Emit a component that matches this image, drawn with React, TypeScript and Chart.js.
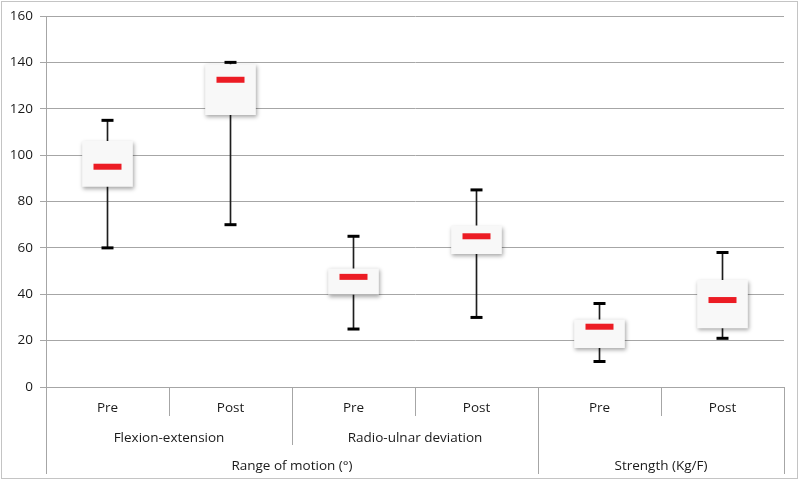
import React, { useEffect, useRef } from "react";
import { Chart, registerables } from "chart.js";

Chart.register(...registerables);

const subLabels = ["Pre", "Post", "Pre", "Post", "Pre", "Post"];
const groupLabels = ["Flexion-extension", "Radio-ulnar deviation", ""];
const groupSpans = [2, 2, 2];
const topLabels = ["Range of motion (°)", "Strength (Kg/F)"];
const topSpans = [4, 2];

const minValues = [60, 70, 25, 30, 11, 21];
const q1Values = [86.5, 117.5, 40, 57.5, 17, 25.5];
const medianValues = [95, 132.5, 47.5, 65, 26, 37.5];
const q3Values = [106, 139, 51, 69.5, 29, 46];
const maxValues = [115, 140, 65, 85, 36, 58];

const FONT = "'Open Sans', 'DejaVu Sans', sans-serif";

const shadowPlugin = {
  id: "boxShadow",
  beforeDatasetDraw(chart: any, args: any) {
    const ds = chart.data.datasets[args.index];
    if (ds.label === "box") {
      const ctx = chart.ctx;
      ctx.save();
      ctx.shadowColor = "rgba(0,0,0,0.35)";
      ctx.shadowBlur = 4;
      ctx.shadowOffsetX = 1;
      ctx.shadowOffsetY = 2;
    }
  },
  afterDatasetDraw(chart: any, args: any) {
    const ds = chart.data.datasets[args.index];
    if (ds.label === "box") {
      chart.ctx.restore();
    }
  },
};

const axisPlugin = {
  id: "multiAxis",
  afterDraw(chart: any) {
    const ctx = chart.ctx;
    const xs = chart.scales.x;
    const area = chart.chartArea;
    const n = subLabels.length;
    const centers: number[] = [];
    for (let i = 0; i < n; i++) centers.push(xs.getPixelForValue(i));
    const edges: number[] = [area.left];
    for (let i = 0; i < n - 1; i++) edges.push((centers[i] + centers[i + 1]) / 2);
    edges.push(area.right);

    const base = area.bottom;
    const row1 = base + 29;
    const row2 = base + 58;
    const row3 = base + 86;

    ctx.save();
    ctx.strokeStyle = "#a6a6a6";
    ctx.lineWidth = 1;
    const vline = (x: number, y2: number) => {
      const px = Math.round(x) + 0.5;
      ctx.beginPath();
      ctx.moveTo(px, base);
      ctx.lineTo(px, y2);
      ctx.stroke();
    };
    const groupEdges = new Set<number>();
    let acc = 0;
    groupEdges.add(0);
    groupSpans.forEach((s) => { acc += s; groupEdges.add(acc); });
    const topEdges = new Set<number>();
    acc = 0;
    topEdges.add(0);
    topSpans.forEach((s) => { acc += s; topEdges.add(acc); });
    for (let i = 0; i <= n; i++) {
      if (topEdges.has(i)) vline(edges[i], row3 + 1);
      else if (groupEdges.has(i)) vline(edges[i], row2);
      else vline(edges[i], row1);
    }

    ctx.fillStyle = "#1a1a1a";
    ctx.font = `13.5px ${FONT}`;
    ctx.textAlign = "center";
    ctx.textBaseline = "middle";
    for (let i = 0; i < n; i++) {
      ctx.fillText(subLabels[i], centers[i], base + 21);
    }
    acc = 0;
    groupLabels.forEach((lab, g) => {
      const x = (edges[acc] + edges[acc + groupSpans[g]]) / 2;
      if (lab) ctx.fillText(lab, x, base + 51);
      acc += groupSpans[g];
    });
    acc = 0;
    topLabels.forEach((lab, g) => {
      const x = (edges[acc] + edges[acc + topSpans[g]]) / 2;
      ctx.fillText(lab, x, base + 79);
      acc += topSpans[g];
    });

    ctx.strokeStyle = "#c4c4c4";
    ctx.strokeRect(1.5, 1.5, 796, 477);
    ctx.restore();
  },
};

export default function App() {
  const ref = useRef<HTMLCanvasElement | null>(null);

  useEffect(() => {
    document.body.style.margin = "0";
    if (!ref.current) return;
    const chart = new Chart(ref.current, {
      type: "bar",
      data: {
        labels: subLabels,
        datasets: [
          {
            type: "line",
            label: "median",
            data: medianValues,
            showLine: false,
            pointStyle: "line",
            pointRadius: 14,
            pointBorderWidth: 6,
            pointBorderColor: "#ec1c24",
            pointBackgroundColor: "#ec1c24",
            borderColor: "#ec1c24",
            order: 0,
          } as any,
          {
            type: "line",
            label: "maxCap",
            data: maxValues,
            showLine: false,
            pointStyle: "line",
            pointRadius: 6,
            pointBorderWidth: 3,
            pointBorderColor: "#000",
            borderColor: "#000",
            order: 1,
          } as any,
          {
            type: "line",
            label: "minCap",
            data: minValues,
            showLine: false,
            pointStyle: "line",
            pointRadius: 6,
            pointBorderWidth: 3,
            pointBorderColor: "#000",
            borderColor: "#000",
            order: 1,
          } as any,
          {
            type: "bar",
            label: "box",
            data: q1Values.map((q, i) => [q, q3Values[i]]),
            backgroundColor: "#f8f8f8",
            borderWidth: 0,
            barThickness: 50,
            grouped: false,
            order: 2,
          } as any,
          {
            type: "bar",
            label: "whisker",
            data: minValues.map((m, i) => [m, maxValues[i]]),
            backgroundColor: "#1e1e1e",
            borderWidth: 0,
            barThickness: 1,
            grouped: false,
            order: 3,
          } as any,
        ],
      },
      options: {
        animation: false,
        responsive: false,
        maintainAspectRatio: false,
        layout: { autoPadding: false, padding: { left: 0, right: 16, top: 16, bottom: 0 } },
        plugins: {
          legend: { display: false },
          tooltip: { enabled: false },
          title: { display: false },
        },
        scales: {
          x: {
            type: "category",
            offset: true,
            grid: { display: false },
            border: { display: false },
            ticks: { display: false },
            afterFit: (scale: any) => {
              scale.height = 94;
            },
          },
          y: {
            min: 0,
            max: 160,
            ticks: {
              stepSize: 20,
              color: "#1a1a1a",
              font: { family: FONT, size: 13.5 },
              padding: 7,
            },
            grid: {
              color: "#a6a6a6",
              tickLength: 6,
              drawTicks: true,
            },
            border: { display: true, color: "#a6a6a6" },
            afterFit: (scale: any) => {
              scale.width = 46;
            },
          },
        },
      },
      plugins: [shadowPlugin, axisPlugin],
    } as any);
    return () => chart.destroy();
  }, []);

  return (
    <div style={{ width: 800, height: 481, background: "#fff" }}>
      <canvas ref={ref} width={800} height={481} style={{ display: "block" }} />
    </div>
  );
}
